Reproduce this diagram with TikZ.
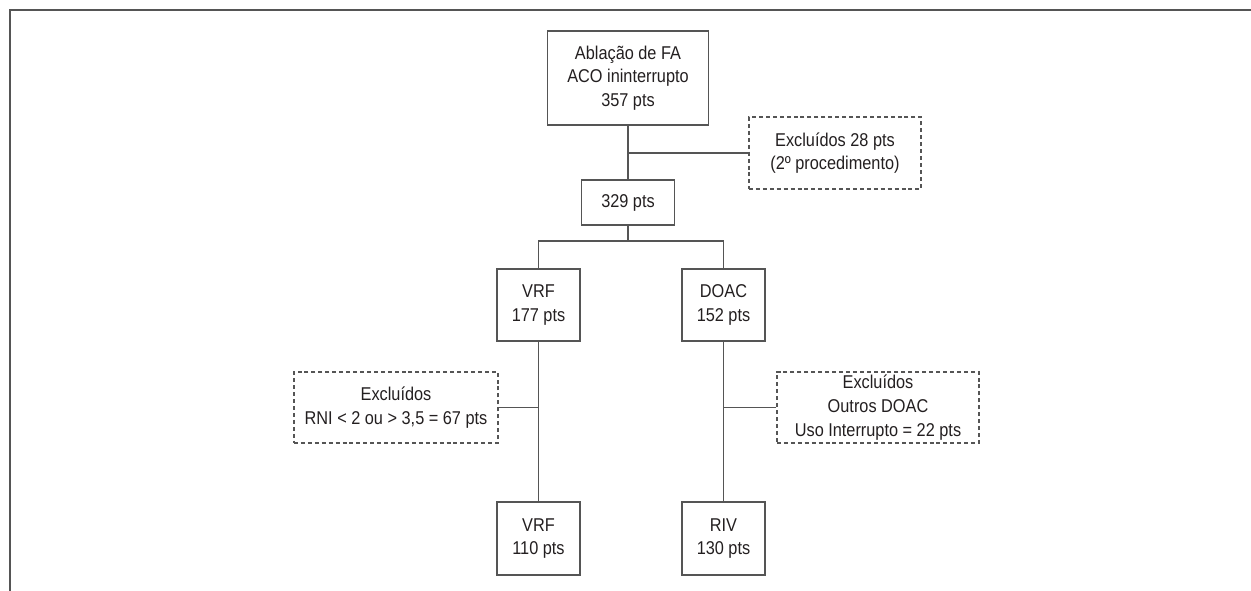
\documentclass[tikz,border=0pt]{standalone}
\usepackage{fontspec}
\setmainfont{Liberation Sans}[FakeStretch=0.88]
\definecolor{linegray}{RGB}{85,85,85}
\definecolor{textgray}{RGB}{35,31,32}
\tikzset{
  caixa/.style={draw=linegray, line width=0.8pt, inner sep=0pt, align=center, text=textgray,
    font=\fontsize{13.9}{17.8}\selectfont},
  excluidos/.style={caixa, dash pattern=on 3pt off 2.2pt},
  ligacao/.style={draw=linegray, line width=0.8pt}
}
\begin{document}
\begin{tikzpicture}[x=0.75pt,y=0.75pt,yscale=-1,xscale=1]
\useasboundingbox (0,0) rectangle (1251,591);

%Frame (open at right and bottom)
\draw [color=linegray, line width=1.3pt] (10,591) -- (10,10) -- (1251,10) ;

% Shape: Rectangle
\node [caixa, minimum width=120.75pt, minimum height=70.5pt] (abl) at (628,78) {Ablação de FA\\ACO ininterrupto\\357 pts};
% Shape: Rectangle (dashed)
\node [excluidos, minimum width=129pt, minimum height=54pt] (exc1) at (835,153) {Excluídos 28 pts\\(2º procedimento)};
% Shape: Rectangle
\node [caixa, minimum width=69.75pt, minimum height=33.75pt] (tot) at (628,202.5) {329 pts};
% Shape: Rectangle
\node [caixa, minimum width=62.25pt, minimum height=54pt] (vrf) at (538.5,305) {VRF\\177 pts};
% Shape: Rectangle
\node [caixa, minimum width=62.25pt, minimum height=54pt] (doac) at (723.5,305) {DOAC\\152 pts};
% Shape: Rectangle (dashed)
\node [excluidos, minimum width=153pt, minimum height=53.25pt] (exc2) at (396,407.5) {Excluídos\\RNI < 2 ou > 3,5 = 67 pts};
% Shape: Rectangle (dashed)
\node [excluidos, minimum width=151.5pt, minimum height=53.25pt] (exc3) at (878,407.5) {Excluídos\\Outros DOAC\\Uso Interrupto = 22 pts};
% Shape: Rectangle
\node [caixa, minimum width=62.25pt, minimum height=54.75pt] (vrff) at (538.5,538.5) {VRF\\110 pts};
% Shape: Rectangle
\node [caixa, minimum width=62.25pt, minimum height=54.75pt] (riv) at (723.5,538.5) {RIV\\130 pts};

\coordinate (div) at (628,241);

%Straight Lines
\draw [ligacao] (abl.south) -- (tot.north) ;
\draw [ligacao] (abl.south |- exc1.west) -- (exc1.west) ;
\draw [ligacao] (tot.south) -- (div) ;
\draw [ligacao] (vrf.north) |- (div) -| (doac.north) ;
\draw [ligacao] (vrf.south) -- (vrff.north) ;
\draw [ligacao] (exc2.east) -- (vrf.south |- exc2.east) ;
\draw [ligacao] (doac.south) -- (riv.north) ;
\draw [ligacao] (exc3.west) -- (doac.south |- exc3.west) ;

\end{tikzpicture}
\end{document}
